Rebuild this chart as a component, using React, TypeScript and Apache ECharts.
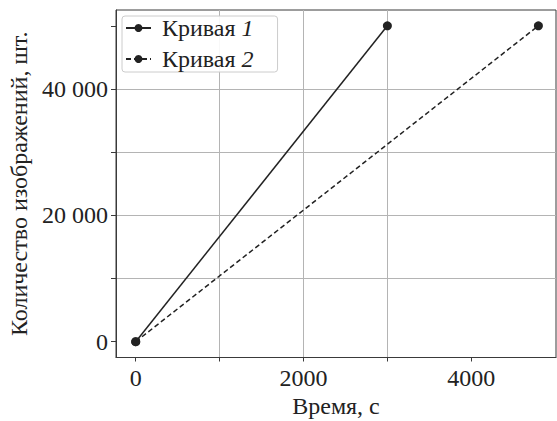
import React, { useEffect, useRef } from "react";
import * as echarts from "echarts";

const seriesNames = ["Кривая 1", "Кривая 2"];
const curve1: [number, number][] = [
  [0, 0],
  [3000, 50000],
];
const curve2: [number, number][] = [
  [0, 0],
  [4800, 50000],
];
const xTickValues = [0, 1000, 2000, 3000, 4000];
const xLabelValues = [0, 2000, 4000];
const yTickValues = [0, 10000, 20000, 30000, 40000, 50000];
const yLabelValues = [0, 20000, 40000];
const xTitle = "Время, с";
const yTitle = "Количество изображений, шт.";

const FONT = "Liberation Serif, Times New Roman, serif";
const INK = "#222222";
const GRID = "#b4b4b4";
const AXIS = "#3a3a3a";

export default function App() {
  const ref = useRef<HTMLDivElement>(null);
  useEffect(() => {
    if (!ref.current) return;
    const chart = echarts.init(ref.current, undefined, { renderer: "svg" });
    chart.setOption({
      animation: false,
      backgroundColor: "#ffffff",
      textStyle: { fontFamily: FONT },
      grid: {
        left: 116,
        right: 1,
        top: 10,
        bottom: 63.5,
        outerBoundsMode: "none",
        show: true,
        borderColor: AXIS,
        borderWidth: 1,
        backgroundColor: "#ffffff",
      },
      legend: {
        left: 122,
        top: 16,
        orient: "vertical",
        itemWidth: 25,
        itemHeight: 10,
        itemGap: 7,
        padding: [0, 24, 1, 3],
        backgroundColor: "rgba(255,255,255,0.9)",
        borderColor: "#cccccc",
        borderWidth: 1,
        borderRadius: 3,
        data: seriesNames,
        formatter: (name: string) => {
          const parts = name.split(" ");
          return `${parts[0]} {i|${parts[1]}}`;
        },
        textStyle: {
          fontFamily: FONT,
          fontSize: 24,
          color: INK,
          padding: [0, 0, 0, 6],
          rich: {
            i: { fontFamily: FONT, fontSize: 24, fontStyle: "italic", color: INK },
          },
        },
      },
      xAxis: {
        type: "value",
        min: -235,
        max: 5010,
        minInterval: 1000,
        maxInterval: 1000,
        name: xTitle,
        nameLocation: "middle",
        nameGap: 36,
        nameTextStyle: { fontFamily: FONT, fontSize: 24, color: INK },
        axisLine: { show: true, onZero: false, lineStyle: { color: AXIS, width: 1 } },
        axisTick: {
          show: true,
          length: 4,
          customValues: xTickValues,
          lineStyle: { color: AXIS, width: 1 },
        },
        axisLabel: {
          customValues: xLabelValues,
          margin: 8,
          fontFamily: FONT,
          fontSize: 24,
          color: INK,
          formatter: (v: number) => String(v),
        },
        splitLine: {
          show: true,
          showMinLine: false,
          showMaxLine: false,
          lineStyle: { color: GRID, width: 1 },
        },
      },
      yAxis: {
        type: "value",
        min: -2500,
        max: 52500,
        minInterval: 10000,
        maxInterval: 10000,
        name: yTitle,
        nameLocation: "middle",
        nameGap: 82,
        nameTextStyle: { fontFamily: FONT, fontSize: 24, color: INK },
        axisLine: { show: true, onZero: false, lineStyle: { color: AXIS, width: 1 } },
        axisTick: {
          show: true,
          length: 5,
          customValues: yTickValues,
          lineStyle: { color: AXIS, width: 1 },
        },
        axisLabel: {
          customValues: yLabelValues,
          margin: 8,
          fontFamily: FONT,
          fontSize: 24,
          color: INK,
          formatter: (v: number) => (v === 0 ? "0" : `${v / 1000} 000`),
        },
        splitLine: {
          show: true,
          showMinLine: false,
          showMaxLine: false,
          lineStyle: { color: GRID, width: 1 },
        },
      },
      series: [
        {
          name: seriesNames[0],
          type: "line",
          data: curve1,
          symbol: "circle",
          symbolSize: 9,
          color: INK,
          lineStyle: { color: INK, width: 1.5, type: "solid" },
          itemStyle: { color: INK },
        },
        {
          name: seriesNames[1],
          type: "line",
          data: curve2,
          symbol: "circle",
          symbolSize: 9,
          color: INK,
          lineStyle: { color: INK, width: 1.5, type: [5, 3] },
          itemStyle: { color: INK },
        },
      ],
    });
    return () => chart.dispose();
  }, []);
  return <div ref={ref} style={{ width: 557, height: 421, position: "absolute", left: 0, top: 0 }} />;
}
